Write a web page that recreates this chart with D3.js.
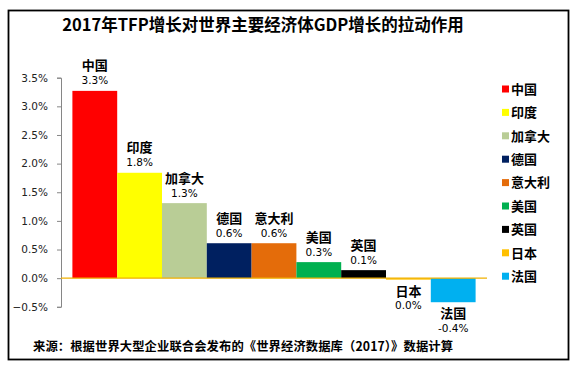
<!DOCTYPE html>
<html><head><meta charset="utf-8">
<script src="https://cdn.jsdelivr.net/npm/d3@7"></script>
<style>
html,body{margin:0;padding:0;background:#fff;}
svg{display:block;}
</style></head>
<body>
<svg id="chart" width="573" height="369"></svg>
<script>
const titleText = "2017年TFP增长对世界主要经济体GDP增长的拉动作用";
const sourceText = "来源：根据世界大型企业联合会发布的《世界经济数据库（2017）》数据计算";
const countries = ["中国","印度","加拿大","德国","意大利","美国","英国","日本","法国"];
const values = [3.27, 1.84, 1.31, 0.61, 0.61, 0.28, 0.14, -0.02, -0.42];
const valueLabels = ["3.3%","1.8%","1.3%","0.6%","0.6%","0.3%","0.1%","0.0%","-0.4%"];
const colors = ["#FF0000","#FFFF00","#B9CD96","#002060","#E46C0A","#00B050","#000000","#FFC000","#00B0F0"];
const yTicks = [-0.5,0,0.5,1.0,1.5,2.0,2.5,3.0,3.5];

const svg = d3.select("#chart");
const cjk = "'Noto Sans CJK SC','Noto Sans',sans-serif";
const num = "'DejaVu Sans',sans-serif";

// frame
svg.append("rect").attr("x",8.5).attr("y",10.5).attr("width",560).attr("height",349)
  .attr("fill","#fff").attr("stroke","#000").attr("stroke-width",1.8);

// title
svg.append("text").attr("x",263).attr("y",31).attr("text-anchor","middle")
  .attr("font-family",cjk).attr("font-size",16.5).attr("font-weight","bold").attr("fill","#000")
  .text(titleText);

const plotLeft = 61, plotRight = 487;
const y = d3.scaleLinear().domain([-0.5,3.5]).range([306.8,77.7]);
const x = d3.scaleBand().domain(countries).range([plotLeft+11.4, plotRight-11.4]).padding(0);

// y axis
const yAxis = d3.axisLeft(y).tickValues(yTicks).tickSize(4).tickPadding(9)
  .tickFormat(d => d3.format(".1f")(d) + "%");
const gy = svg.append("g").attr("transform",`translate(${plotLeft},0)`).call(yAxis);
gy.select(".domain").attr("stroke","#868686");
gy.selectAll(".tick line").attr("stroke","#868686");
gy.selectAll(".tick text").attr("font-family",num).attr("font-size",10.5).attr("fill","#222");

// bars
svg.append("g").selectAll("rect").data(countries).join("rect")
  .attr("x", d => x(d))
  .attr("width", x.bandwidth())
  .attr("y", (d,i) => y(Math.max(0, values[i])))
  .attr("height", (d,i) => Math.max(1.5, Math.abs(y(values[i]) - y(0))))
  .attr("fill", (d,i) => colors[i]);

// zero axis line
svg.append("line").attr("x1",plotLeft).attr("x2",plotRight)
  .attr("y1",y(0)).attr("y2",y(0)).attr("stroke","#F0B000").attr("stroke-width",1.2);

// data labels
const lab = svg.append("g");
countries.forEach((c,i) => {
  const cx = x(c) + x.bandwidth()/2;
  const v = values[i];
  let nameY, valY;
  if (v >= 0) {
    const top = y(v);
    nameY = top - 20.5; valY = top - 6.5;
  } else {
    const bot = Math.max(y(v), y(0)+1.5);
    nameY = bot + 16; valY = bot + 29.5;
  }
  lab.append("text").attr("x",cx).attr("y",nameY).attr("text-anchor","middle")
    .attr("font-family",cjk).attr("font-size",13).attr("font-weight","bold").attr("fill","#000").text(c);
  lab.append("text").attr("x",cx).attr("y",valY).attr("text-anchor","middle")
    .attr("font-family",num).attr("font-size",10.5).attr("fill","#000").text(valueLabels[i]);
});

// legend
const leg = svg.append("g");
countries.forEach((c,i) => {
  const cy = 89 + i*23.4;
  leg.append("rect").attr("x",502).attr("y",cy-3.5).attr("width",7).attr("height",7).attr("fill",colors[i]);
  leg.append("text").attr("x",511).attr("y",cy+4.8)
    .attr("font-family",cjk).attr("font-size",13).attr("font-weight","bold").attr("fill","#000").text(c);
});

// source
svg.append("text").attr("x",33).attr("y",351)
  .attr("font-family",cjk).attr("font-size",12.3).attr("font-weight","bold").attr("fill","#000")
  .attr("textLength",420).attr("lengthAdjust","spacing")
  .text(sourceText);
</script>
</body></html>
